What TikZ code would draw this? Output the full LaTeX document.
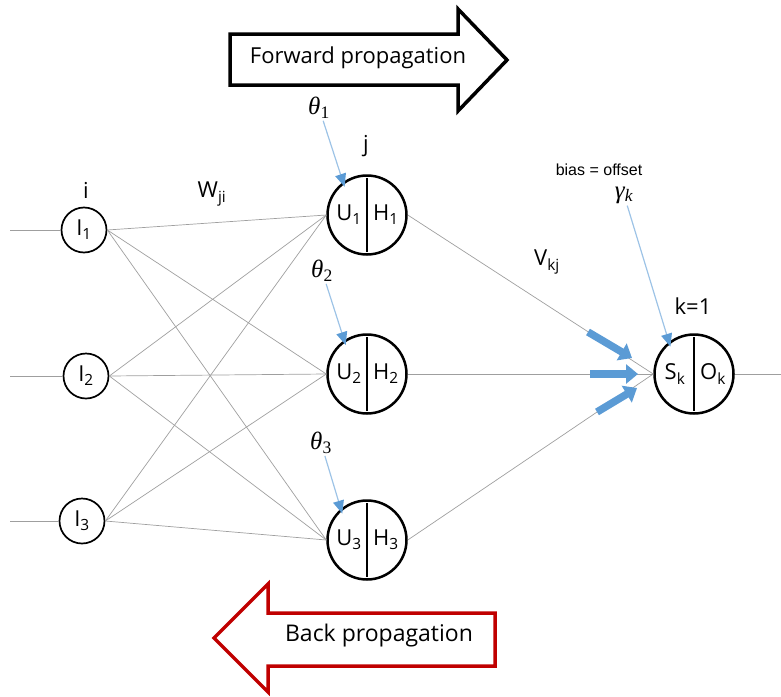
\documentclass[tikz,border=0pt]{standalone}
\usepackage{fontspec}
\setmainfont{Open Sans}
\newfontfamily\arialfont{Liberation Sans}
\newfontfamily\greekfont{Liberation Serif}
\usetikzlibrary{arrows.meta}
\definecolor{tipblue}{HTML}{5B9BD5}
\definecolor{lineblue}{HTML}{9DC3E6}
\definecolor{backred}{HTML}{C00000}
\newcommand{\gsym}[2]{{\greekfont\itshape #1\textsubscript{#2}}}
\tikzset{
	inode/.style = {circle, draw, line width=1.7pt, minimum size=45pt, inner sep=0pt},
	hnode/.style = {circle, draw, line width=2.5pt, minimum size=79pt, inner sep=0pt},
	wire/.style = {draw=gray!75, line width=0.7pt},
	splitbar/.style = {line width=2.6pt, shorten <=4pt, shorten >=4pt},
	bias/.style = {draw=lineblue, line width=1.2pt, shorten >=-5pt,
		-{Triangle[length=13pt, width=11pt, color=tipblue]}},
	biaslabel/.style = {font=\fontsize{25}{28}\selectfont, inner sep=2pt},
	flow/.style = {draw=tipblue, line width=7.5pt, -{Triangle[length=12pt, width=19pt]}},
	bigarrow/.style = {line width=3.5pt, fill=white, line join=miter}
}

\begin{document}
\begin{tikzpicture}[x=1pt, y=-1pt, font=\fontsize{22}{26}\selectfont]
	\useasboundingbox (0,0) rectangle (781,696);

	% input layer
	\node[inode] (i1) at (84,230) {I\textsubscript{1}};
	\node[inode] (i2) at (86,376) {I\textsubscript{2}};
	\node[inode] (i3) at (82,521) {I\textsubscript{3}};
	\coordinate (in1) at (10,230);
	\coordinate (in2) at (10,376);
	\coordinate (in3) at (10,521);

	% hidden layer
	\node[hnode] (h1) at (367,215) {};
	\node[hnode] (h2) at (367,374) {};
	\node[hnode] (h3) at (367,540) {};

	% output layer
	\node[hnode] (s) at (694,374) {};
	\coordinate (out) at (781,374);

	% weights
	\foreach \a in {1,2,3} {
		\draw[wire] (in\a) -- (i\a);
		\foreach \b in {1,2,3}
			\draw[wire] (i\a.east) -- (h\b.west);
		\draw[wire] (h\a.east) -- (s.west);
		\draw[splitbar] (h\a.north) -- (h\a.south);
		\node (u\a) at ([xshift=-18pt]h\a.center) {U\textsubscript{\a}};
		\node (o\a) at ([xshift=19pt]h\a.center) {H\textsubscript{\a}};
	}
	\draw[wire] (s.east) -- (out);
	\draw[splitbar] (s.north) -- (s.south);
	\node (sk) at ([xshift=-19pt]s.center) {S\textsubscript{k}};
	\node (ok) at ([xshift=19pt]s.center) {O\textsubscript{k}};

	% layer labels
	\node (li) at (86,190) {i};
	\node (lj) at (366,146) {j};
	\node (lk) at (693,306) {k=1};
	\node (w) at (212,194) {W\textsubscript{ji}};
	\node (v) at (547,262) {V\textsubscript{kj}};

	% biases
	\node[biaslabel] (t1) at (319,108) {\gsym{θ}{\upshape 1}};
	\node[biaslabel] (t2) at (322,271) {\gsym{θ}{\upshape 2}};
	\node[biaslabel] (t3) at (321,443) {\gsym{θ}{\upshape 3}};
	\node[biaslabel] (g) at (624,195) {\gsym{γ}{k}};
	\node[font=\arialfont\fontsize{16}{18}\selectfont] (off) at (599,170) {bias = offset};
	\draw[bias] (t1) -- (h1.126);
	\draw[bias] (t2) -- (h2.124);
	\draw[bias] (t3) -- (h3.130);
	\draw[bias] (g) -- (s.128);

	% thick arrows into the output
	\draw[flow] ([shift={(-106,-42)}]s.center) -- ([shift={(-62,-16)}]s.center);
	\draw[flow] ([shift={(-104,0)}]s.center) -- ([shift={(-56,0)}]s.center);
	\draw[flow] ([shift={(-97,38)}]s.center) -- ([shift={(-57,14)}]s.center);

	% propagation arrows
	\draw[bigarrow] (230,34) -- (458,34) -- (458,9) -- (507,60) -- (458,111) -- (458,85) -- (230,85) -- cycle;
	\node (fwd) at (358,58) {Forward propagation};
	\draw[bigarrow, draw=backred] (495,613) -- (268,613) -- (268,584) -- (214,638) -- (268,692) -- (268,666) -- (495,666) -- cycle;
	\node[font=\fontsize{23}{27}\selectfont] (bwd) at (379,636) {Back propagation};
\end{tikzpicture}
\end{document}
